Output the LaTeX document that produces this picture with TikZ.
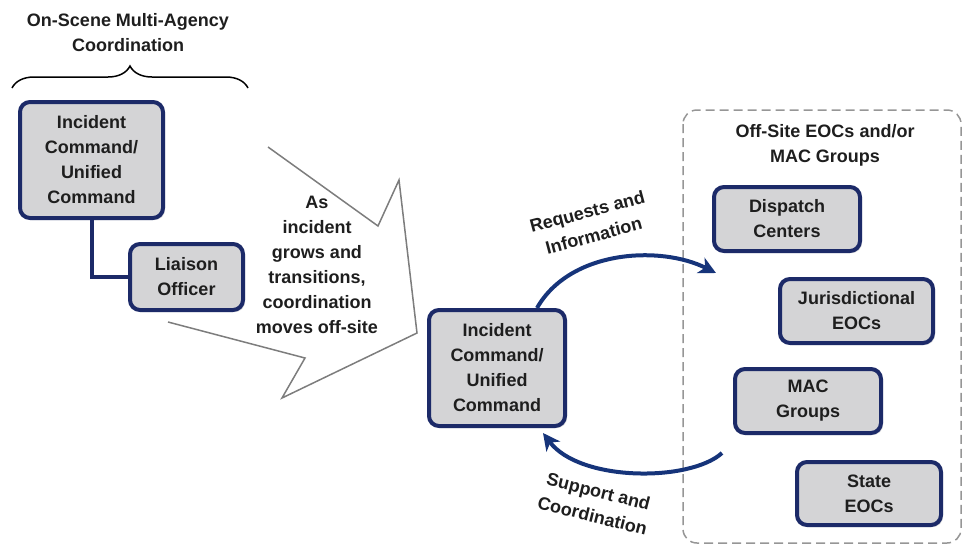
\documentclass[tikz,border=0pt]{standalone}
\usepackage{fontspec}
\setmainfont{Liberation Sans}
\usetikzlibrary{arrows.meta,decorations.pathreplacing,shadows}
\definecolor{boxblue}{RGB}{28,42,104}
\definecolor{boxgray}{RGB}{212,212,214}
\definecolor{txtgray}{RGB}{30,30,30}
\definecolor{flowblue}{RGB}{22,52,122}
\definecolor{edgegray}{RGB}{125,125,125}
\definecolor{dashgray}{RGB}{150,150,150}

\begin{document}
\begin{tikzpicture}[x=1pt,y=1pt,
    every node/.append style={inner sep=0pt, text=txtgray, align=center,
      font=\fontsize{18}{25}\selectfont\bfseries},
    agency/.style={draw=boxblue, line width=4pt, rounded corners=10pt, fill=boxgray,
      drop shadow={opacity=0.25, shadow xshift=2pt, shadow yshift=-2pt}},
    link/.style={draw=boxblue, line width=4pt},
    flow/.style={draw=flowblue, line width=4pt, -{Stealth[length=17pt,width=17pt,inset=5pt]}}]
    \useasboundingbox (0,0) rectangle (964,-550);
    \node (scenetitle) at (128,-32.5) {On-Scene Multi-Agency\\Coordination};
    \draw [decorate, decoration={brace, amplitude=22pt}, line width=1.5pt] (12,-88) -- (248,-88);
    \node (scenecmd) at (91.5,-160) [agency, minimum width=143, minimum height=116] {Incident\\Command/\\Unified\\Command};
    \node (liaison) at (186.5,-277) [agency, minimum width=113, minimum height=66] {Liaison\\Officer};
    \draw [link] (scenecmd.south) |- (liaison.west);
    \draw [edgegray, line width=1.5pt, line join=miter] (268,-147) -- (378,-226) -- (399,-180) -- (417,-333) -- (282,-398) -- (305,-358) -- (168,-322);
    \node (grows) at (317,-264.5) {As\\incident\\grows and\\transitions,\\coordination\\moves off-site};
    \node (offcmd) at (497,-368) [agency, minimum width=136, minimum height=116] {Incident\\Command/\\Unified\\Command};
    \draw [dashgray, line width=1.5pt, dash pattern=on 9pt off 5pt, rounded corners=14pt] (683,-110) rectangle (961,-543);
    \node (offtitle) at (825,-145) {Off-Site EOCs and/or\\MAC Groups};
    \node (dispatch) at (787,-219) [agency, minimum width=146, minimum height=64] {Dispatch\\Centers};
    \node (jurisdiction) at (856.5,-311) [agency, minimum width=153, minimum height=64] {Jurisdictional\\EOCs};
    \node (macgroups) at (808,-401) [agency, minimum width=146, minimum height=64] {MAC\\Groups};
    \node (stateeoc) at (869,-493.5) [agency, minimum width=144, minimum height=63] {State\\EOCs};
    \coordinate (reqend) at (716,-273);
    \coordinate (supstart) at (722,-453);
    \draw [flow] ([xshift=40pt]offcmd.north) .. controls (570,-250) and (660,-245) .. (reqend);
    \draw [flow] (supstart) .. controls (690,-482) and (580,-482) .. ([xshift=46pt,yshift=-5pt]offcmd.south);
    \node (requests) at (590.5,-223.5) [rotate=15] {Requests and\\Information};
    \node (support) at (595.5,-503.5) [rotate=-14] {Support and\\Coordination};
\end{tikzpicture}
\end{document}
